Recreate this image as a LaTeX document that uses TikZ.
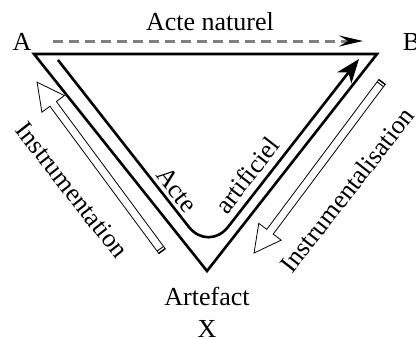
\documentclass[tikz,border=0pt]{standalone}
\usepackage{fontspec}
\setmainfont{Liberation Serif}
\usetikzlibrary{arrows.meta}
\begin{document}
\begin{tikzpicture}[x=1pt,y=1pt,
  font=\fontsize{26}{30}\selectfont,
  edge/.style={line width=2.6pt, line join=miter},
  hollow/.style={line width=0.8pt, fill=white, line join=miter},
  lbl/.style={inner sep=0pt, anchor=base},
  rlbl/.style={inner sep=0pt}]
\useasboundingbox (0,0) rectangle (416,-338);
% triangle
\coordinate (A) at (34,-54);
\coordinate (B) at (377,-54);
\coordinate (X) at (207,-271);
\draw[edge] (A) -- (B) -- (X) -- cycle;
% natural act
\coordinate (n0) at (53,-41);
\coordinate (n1) at (363,-41);
\draw[gray, line width=3pt, dash pattern=on 10pt off 6pt,
  -{Stealth[black,length=24pt,width=11pt,inset=9pt]}] (n0) -- (n1);
% artificial act
\coordinate (c0) at (58,-60);
\coordinate (cm) at (208.5,-252);
\coordinate (c1) at (359,-59);
\draw[line width=2.6pt, rounded corners=32pt,
  -{Stealth[length=24pt,width=18pt,inset=7pt]}] (c0) -- (cm) -- (c1);
% instrumentation arrow
\begin{scope}[shift={(162,-251)}, rotate=126.5]
  \draw[hollow] (0,-4) -- (183,-4) -- (183,-14) -- (210,0) -- (183,14) -- (183,4) -- (0,4) -- cycle;
  \draw[line width=1.4pt] (0,-4) -- (0,4);
  \draw[line width=0.9pt] (2.8,-4) -- (2.8,4);
\end{scope}
% instrumentalisation arrow
\begin{scope}[shift={(382,-82)}, rotate=233.2]
  \draw[hollow] (0,-4) -- (187,-4) -- (187,-14) -- (213.6,0) -- (187,14) -- (187,4) -- (0,4) -- cycle;
  \draw[line width=1.4pt] (0,-4) -- (0,4);
  \draw[line width=0.9pt] (2.8,-4) -- (2.8,4);
\end{scope}
% labels
\node[lbl] (lA) at (22,-50) {A};
\node[lbl] (lB) at (411.5,-50) {B};
\node[lbl] (nat) at (210,-30) {Acte naturel};
\node[lbl] (art) at (207,-305) {Artefact};
\node[lbl] (lX) at (207,-337) {X};
\node[rlbl, rotate=-52] (instr) at (72,-190) {Instrumentation};
\node[rlbl, rotate=52] (instl) at (347,-190) {Instrumentalisation};
\node[rlbl, rotate=-52] (acte) at (177,-190) {Acte};
\node[rlbl, rotate=52] (artif) at (247,-175) {artificiel};
\end{tikzpicture}
\end{document}
